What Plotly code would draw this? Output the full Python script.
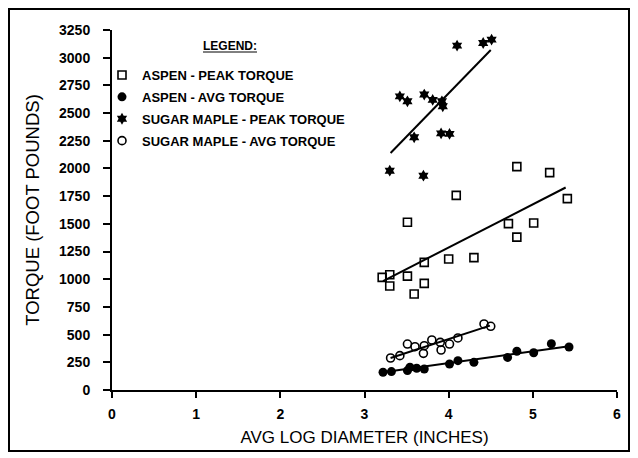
import plotly.graph_objects as go

# ---------------- data ----------------
aspen_peak_x = [3.21, 3.30, 3.30, 3.51, 3.51, 3.59, 3.71, 3.71, 4.00, 4.09, 4.30, 4.71, 4.81, 4.81, 5.01, 5.20, 5.41]
aspen_peak_y = [1017, 1041, 939, 1028, 1515, 867, 1152, 963, 1182, 1757, 1195, 1502, 2017, 1380, 1508, 1962, 1728]

aspen_avg_x = [3.22, 3.32, 3.51, 3.54, 3.62, 3.71, 4.01, 4.11, 4.30, 4.70, 4.81, 5.01, 5.22, 5.43]
aspen_avg_y = [160, 166, 175, 205, 196, 190, 235, 265, 250, 294, 350, 336, 418, 388]

maple_peak_x = [3.30, 3.42, 3.51, 3.59, 3.70, 3.71, 3.81, 3.91, 3.92, 3.93, 4.01, 4.10, 4.41, 4.51]
maple_peak_y = [1980, 2651, 2606, 2281, 1935, 2667, 2619, 2317, 2606, 2561, 2312, 3109, 3133, 3163]

maple_avg_x = [3.31, 3.42, 3.51, 3.60, 3.70, 3.71, 3.80, 3.90, 3.91, 4.01, 4.11, 4.42, 4.50]
maple_avg_y = [289, 310, 415, 391, 331, 400, 452, 430, 361, 415, 470, 596, 575]

# trend lines (end points)
aspen_peak_fit_x = [3.22, 5.39]
aspen_peak_fit_y = [983, 1828]
aspen_avg_fit_x = [3.22, 5.43]
aspen_avg_fit_y = [160, 394]
maple_peak_fit_x = [3.31, 4.50]
maple_peak_fit_y = [2140, 3070]
maple_avg_fit_x = [3.31, 4.49]
maple_avg_fit_y = [289, 581]

series_names = ["ASPEN - PEAK TORQUE", "ASPEN - AVG TORQUE",
                "SUGAR MAPLE - PEAK TORQUE", "SUGAR MAPLE - AVG TORQUE"]

x_ticks = [0, 1, 2, 3, 4, 5, 6]
y_ticks = list(range(0, 3251, 250))

# ---------------- layout geometry ----------------
W, H = 638, 458
ML, MR, MT, MB = 112, 21, 30, 68
PW, PH = W - ML - MR, H - MT - MB


def px(xp):
    return (xp - ML) / PW


def py(yp):
    return (H - MB - yp) / PH


FONT = "Liberation Sans, Arial, sans-serif"
BLACK = "black"

fig = go.Figure()

fit_sets = [(aspen_peak_fit_x, aspen_peak_fit_y), (aspen_avg_fit_x, aspen_avg_fit_y),
            (maple_peak_fit_x, maple_peak_fit_y), (maple_avg_fit_x, maple_avg_fit_y)]
for fx, fy in fit_sets:
    fig.add_trace(go.Scatter(x=fx, y=fy, mode="lines", line=dict(color=BLACK, width=2),
                             showlegend=False, hoverinfo="skip"))

fig.add_trace(go.Scatter(
    x=aspen_peak_x, y=aspen_peak_y, mode="markers", name=series_names[0], legendgroup="a",
    marker=dict(symbol="square-open", size=8, color=BLACK, line=dict(width=1.6, color=BLACK))))
fig.add_trace(go.Scatter(
    x=aspen_avg_x, y=aspen_avg_y, mode="markers", name=series_names[1], legendgroup="b",
    marker=dict(symbol="circle", size=9, color=BLACK, line=dict(width=0))))
fig.add_trace(go.Scatter(
    x=maple_peak_x, y=maple_peak_y, mode="markers", name=series_names[2], legendgroup="c",
    marker=dict(symbol="hexagram", size=9, color=BLACK, line=dict(width=0))))
fig.add_trace(go.Scatter(
    x=maple_avg_x, y=maple_avg_y, mode="markers", name=series_names[3], legendgroup="d",
    marker=dict(symbol="circle-open", size=8, color=BLACK, line=dict(width=1.6, color=BLACK))))

fig.update_layout(
    width=W, height=H,
    margin=dict(l=ML, r=MR, t=MT, b=MB, pad=0),
    paper_bgcolor="white", plot_bgcolor="white",
    font=dict(family=FONT, color=BLACK),
    showlegend=True,
    legend=dict(x=px(102), y=py(60), xanchor="left", yanchor="top",
                bgcolor="rgba(0,0,0,0)", borderwidth=0, tracegroupgap=2,
                font=dict(family=FONT, size=13, color=BLACK, weight="bold"),
                itemwidth=30),
    xaxis=dict(range=[0, 6], tickvals=x_ticks, ticktext=[str(v) for v in x_ticks],
               showgrid=False, zeroline=False, showline=True, linecolor=BLACK, linewidth=2,
               ticks="outside", ticklen=6, tickwidth=1.5, tickcolor=BLACK,
               tickfont=dict(family=FONT, size=14, color=BLACK, weight="bold"),
               ticklabelstandoff=4,
               title=dict(text="AVG LOG DIAMETER (INCHES)", standoff=10,
                          font=dict(family=FONT, size=17, color=BLACK))),
    yaxis=dict(range=[0, 3250], tickvals=y_ticks, ticktext=[str(v) for v in y_ticks],
               showgrid=False, zeroline=False, showline=True, linecolor=BLACK, linewidth=2,
               ticks="outside", ticklen=7, tickwidth=1.5, tickcolor=BLACK,
               tickfont=dict(family=FONT, size=14, color=BLACK, weight="bold"),
               ticklabelstandoff=10,
               title=dict(text="TORQUE (FOOT POUNDS)", standoff=15,
                          font=dict(family=FONT, size=18.5, color=BLACK))),
    annotations=[dict(text="<b>LEGEND:</b>", xref="paper", yref="paper",
                      x=px(230), y=py(46), xanchor="center", yanchor="middle",
                      showarrow=False, font=dict(family=FONT, size=12, color=BLACK))],
    shapes=[
        dict(type="line", xref="paper", yref="paper", x0=px(203), x1=px(257),
             y0=py(52), y1=py(52), line=dict(color=BLACK, width=1)),
        dict(type="rect", xref="paper", yref="paper", x0=px(9), x1=px(629),
             y0=py(451), y1=py(9), line=dict(color=BLACK, width=2), layer="below"),
    ],
)

fig.write_html("out.html")
